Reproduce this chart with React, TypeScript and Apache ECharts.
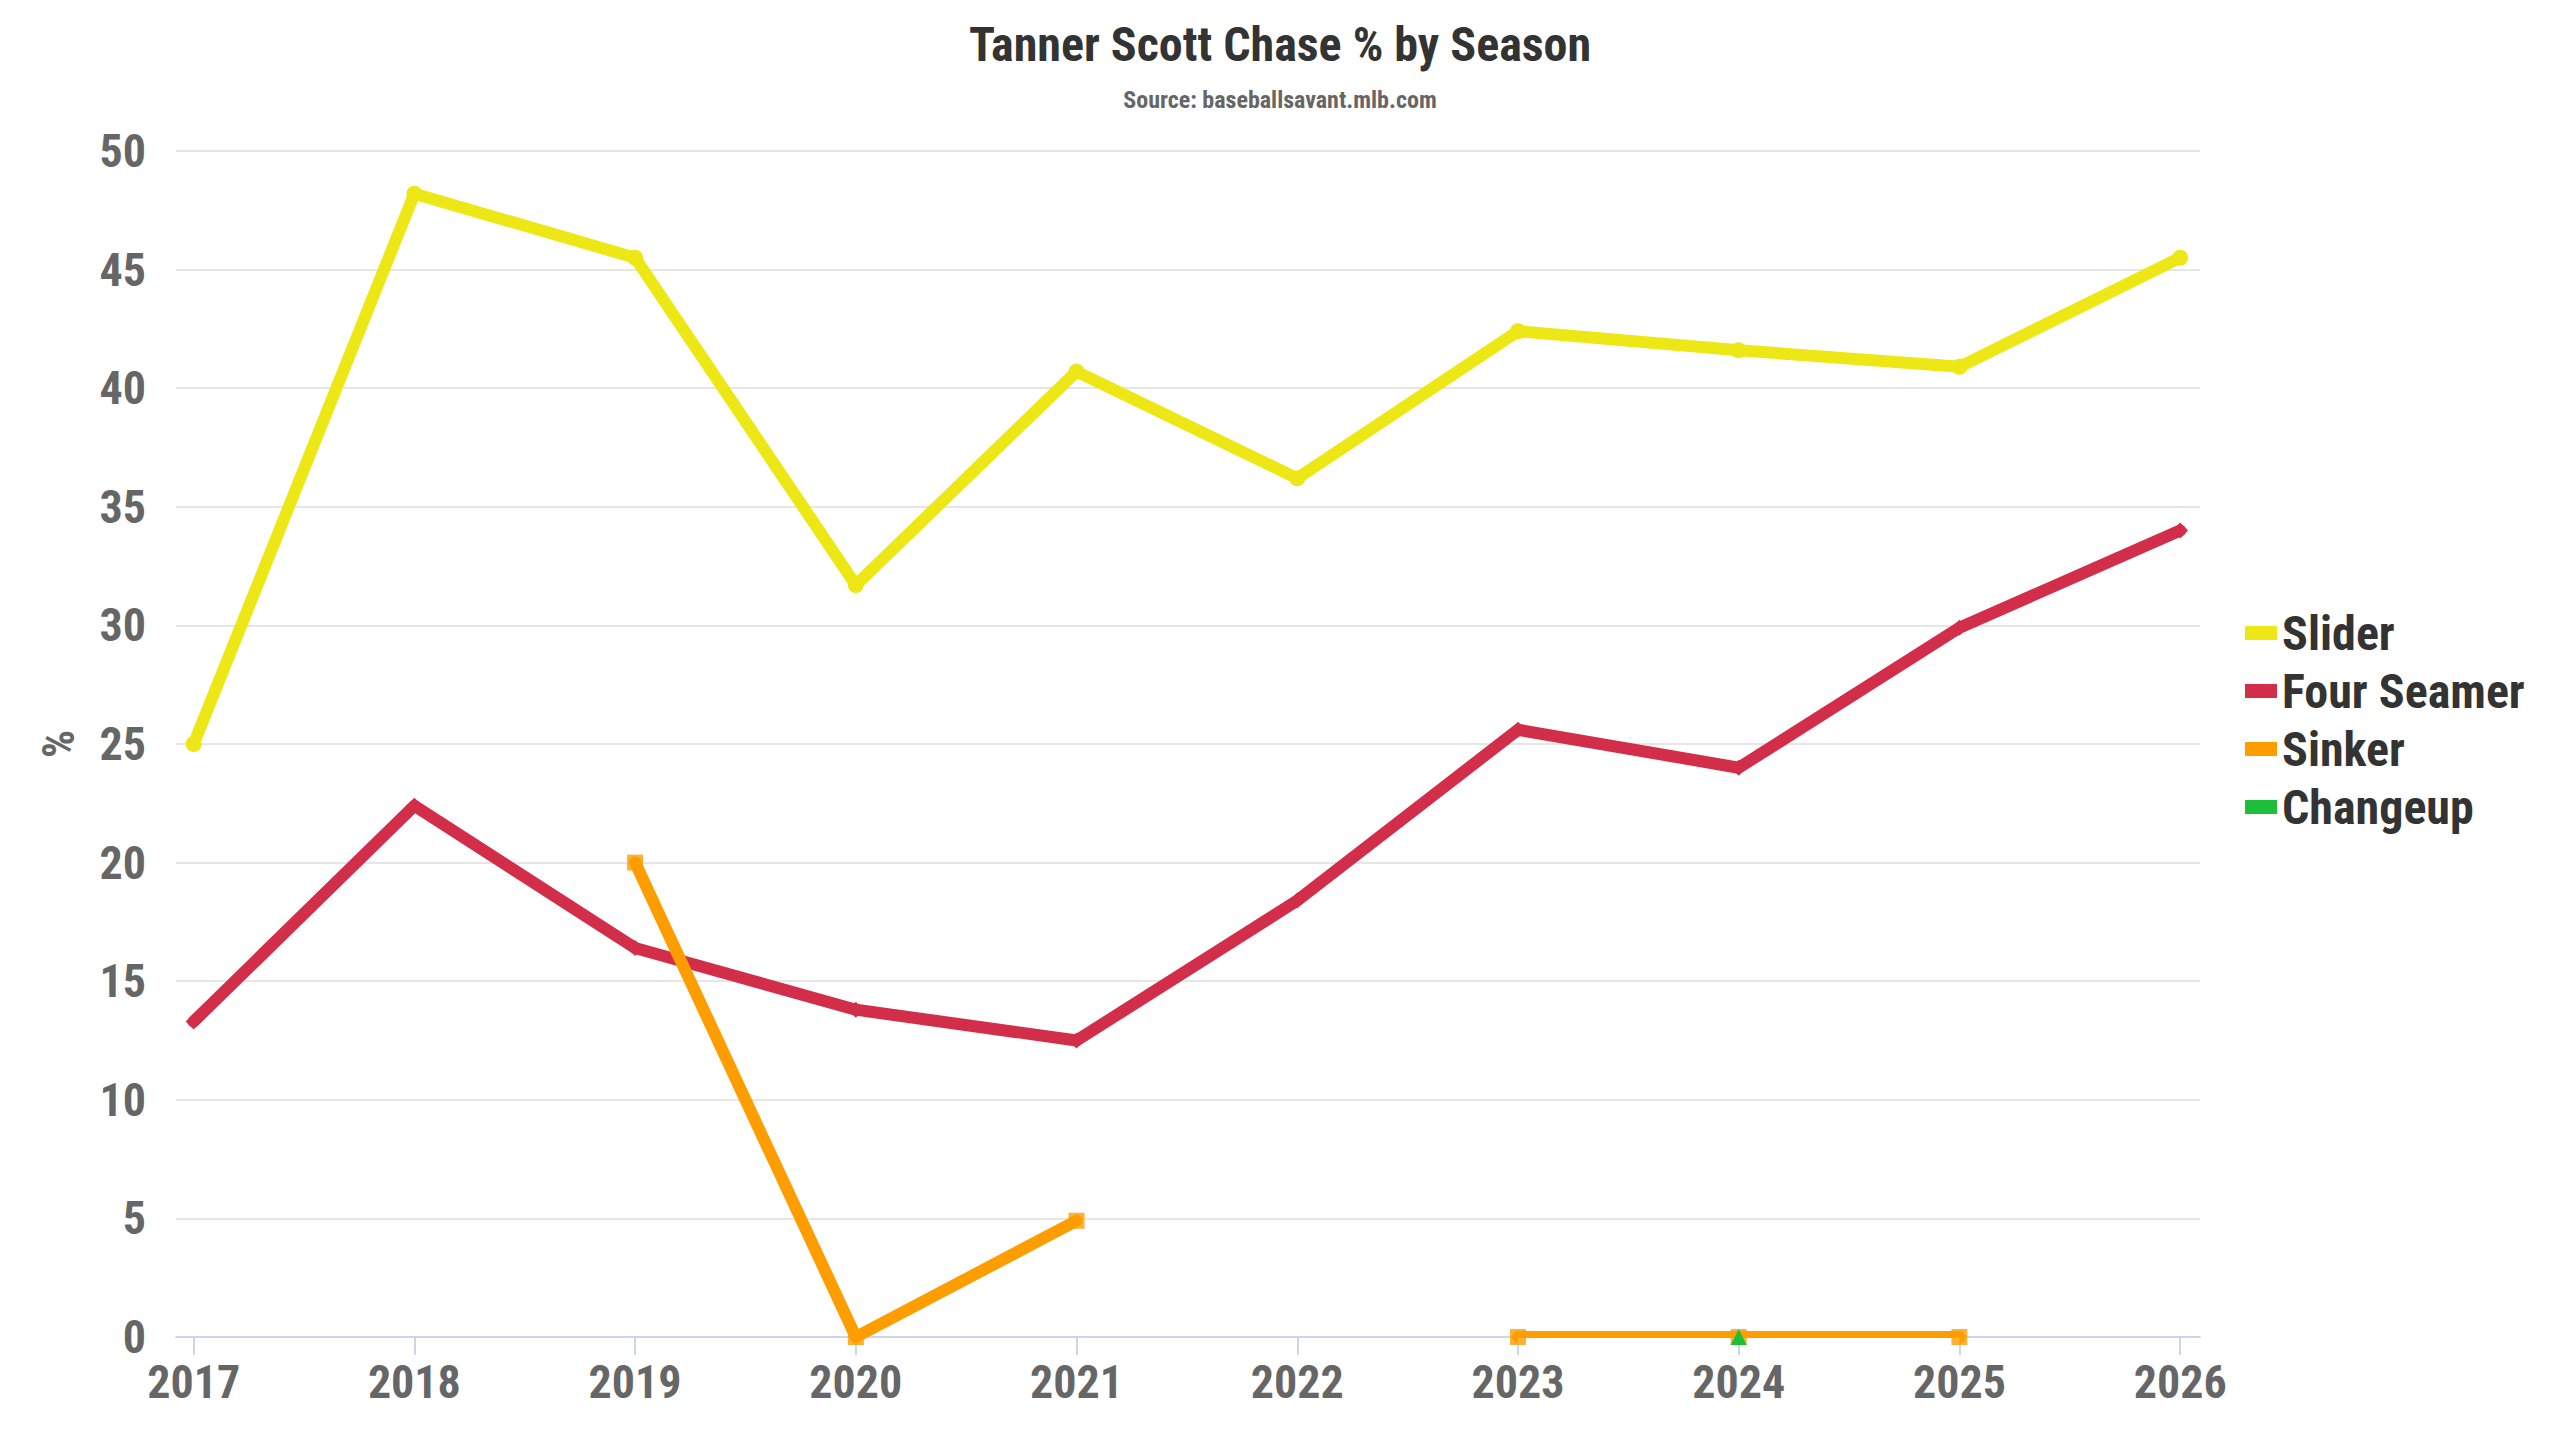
import React, { useEffect, useRef } from "react";
import * as echarts from "echarts";

const years = [2017, 2018, 2019, 2020, 2021, 2022, 2023, 2024, 2025, 2026];
const slider = [25.0, 48.2, 45.5, 31.7, 40.7, 36.2, 42.4, 41.6, 40.9, 45.5];
const fourSeamer = [13.3, 22.4, 16.4, 13.8, 12.5, 18.4, 25.6, 24.0, 29.9, 34.0];
const sinker = [null, null, 20.0, 0, 4.9, null, 0, 0, 0, null];
const changeup = [null, null, null, null, null, null, null, 0, null, null];
const yTicks = [0, 5, 10, 15, 20, 25, 30, 35, 40, 45, 50];

const FONT = "'Roboto Condensed', 'Roboto', sans-serif";

function pairs(vals: (number | null)[]) {
  return years.map((y, i) => [y, vals[i] === null ? "-" : vals[i]]);
}
function points(vals: (number | null)[]) {
  return years.map((y, i) => [y, vals[i]]).filter((p) => p[1] !== null);
}

export default function App() {
  const ref = useRef<HTMLDivElement>(null);
  useEffect(() => {
    document.body.style.margin = "0";
    const chart = echarts.init(ref.current!, null, { renderer: "svg" });
    const lineSeries = (name: string, vals: (number | null)[], color: string, symbol: string, showSymbol = true) => ({
      name,
      type: "line",
      data: pairs(vals),
      symbol,
      symbolSize: 16,
      showSymbol,
      connectNulls: false,
      z: 2,
      itemStyle: { color },
      lineStyle: { color, width: 12, cap: "round", join: "round" },
      emphasis: { disabled: true },
    });
    chart.setOption({
      animation: false,
      backgroundColor: "#ffffff",
      textStyle: { fontFamily: FONT },
      title: {
        text: "Tanner Scott Chase % by Season",
        subtext: "Source: baseballsavant.mlb.com",
        left: "center",
        top: 15,
        itemGap: 20,
        textStyle: { fontFamily: FONT, fontWeight: "bold", fontSize: 48, color: "#333333" },
        subtextStyle: { fontFamily: FONT, fontWeight: "bold", fontSize: 24, color: "#666666" },
      },
      legend: {
        orient: "vertical",
        left: 2240,
        top: "middle",
        icon: "rect",
        itemWidth: 32,
        itemHeight: 14,
        itemGap: 10,
        textStyle: { fontFamily: FONT, fontWeight: "bold", fontSize: 48, color: "#333333" },
        data: ["Slider", "Four Seamer", "Sinker", "Changeup"],
      },
      grid: { left: 176, right: 360, top: 151, bottom: 103 },
      xAxis: {
        type: "value",
        min: 2016.92,
        max: 2026.09,
        splitLine: { show: false },
        axisLine: { show: true, lineStyle: { color: "#ccd6eb", width: 2 } },
        axisTick: { show: true, length: 18, lineStyle: { color: "#ccd6eb", width: 2 }, customValues: years },
        axisLabel: {
          customValues: years,
          formatter: (v: number) => String(Math.round(v)),
          fontFamily: FONT,
          fontWeight: "bold",
          fontSize: 46,
          color: "#666666",
          margin: 22,
        },
      },
      yAxis: {
        type: "value",
        min: yTicks[0],
        max: yTicks[yTicks.length - 1],
        interval: 5,
        name: "%",
        nameLocation: "middle",
        nameGap: 95,
        nameRotate: 90,
        nameTextStyle: { fontFamily: FONT, fontWeight: "bold", fontSize: 44, color: "#666666" },
        axisLine: { show: false },
        axisTick: { show: false },
        splitLine: { lineStyle: { color: "#e6e6e6", width: 2 } },
        axisLabel: { fontFamily: FONT, fontWeight: "bold", fontSize: 46, color: "#666666", margin: 30 },
      },
      series: [
        lineSeries("Slider", slider, "#eee716", "circle"),
        lineSeries("Four Seamer", fourSeamer, "#d22d49", "diamond"),
        lineSeries("Sinker", sinker, "#fe9d00", "rect", false),
        {
          name: "Sinker",
          type: "scatter",
          data: points(sinker),
          symbol: "rect",
          symbolSize: 16,
          z: 4,
          itemStyle: { color: "#fe9d00" },
          emphasis: { disabled: true },
        },
        {
          name: "Changeup",
          type: "line",
          data: pairs(changeup),
          symbol: "triangle",
          symbolSize: 16,
          showSymbol: true,
          z: 5,
          itemStyle: { color: "#1dbe3a" },
          lineStyle: { color: "#1dbe3a", width: 12 },
          emphasis: { disabled: true },
        },
      ],
    });
    // mask the part of the zero-valued sinker segment that falls below the plot area (plot clipping)
    const zeroYears = years.filter((y, i) => sinker[i] === 0 && sinker[i + 1] === 0);
    const masks = zeroYears.map((y) => {
      const a = chart.convertToPixel({ gridIndex: 0 }, [y, 0]) as number[];
      const b = chart.convertToPixel({ gridIndex: 0 }, [y + 1, 0]) as number[];
      return {
        type: "rect",
        z: 3,
        silent: true,
        shape: { x: a[0], y: a[1] + 1, width: b[0] - a[0], height: 7 },
        style: { fill: "#ffffff" },
      };
    });
    chart.setOption({ graphic: { elements: masks } });
    return () => chart.dispose();
  }, []);
  return <div ref={ref} style={{ position: "fixed", left: 0, top: 0, width: 2560, height: 1440 }} />;
}
